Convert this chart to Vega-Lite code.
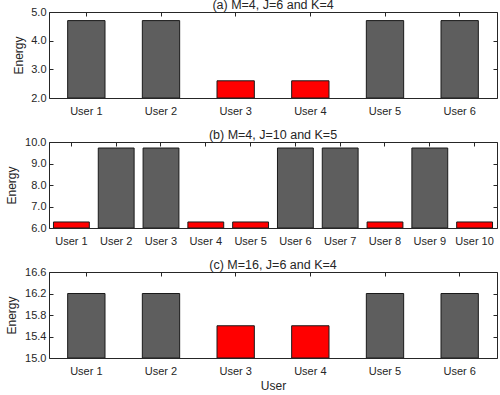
{
  "$schema": "https://vega.github.io/schema/vega-lite/v6.json",
  "padding": {"left": 5, "top": -2, "right": 1, "bottom": 0},
  "spacing": 12,
  "config": {
    "view": {"stroke": null},
    "font": "Liberation Sans",
    "axis": {
      "domainColor": "#262626",
      "tickColor": "#262626",
      "labelColor": "#262626",
      "titleColor": "#262626",
      "labelFont": "Liberation Sans",
      "titleFont": "Liberation Sans",
      "labelFontSize": 11,
      "titleFontSize": 12,
      "titleFontWeight": "normal",
      "grid": false,
      "tickSize": -4,
      "domainWidth": 1,
      "zindex": 1
    },
    "title": {"font": "Liberation Sans", "fontSize": 12.5, "fontWeight": "normal", "color": "#262626", "offset": -5}
  },
  "vconcat": [
    {
      "width": 448,
      "height": 86,
      "title": "(a) M=4, J=6 and K=4",
      "data": {"values": [
        {"User": "User 1", "Energy": 4.7, "Level": "high"},
        {"User": "User 2", "Energy": 4.7, "Level": "high"},
        {"User": "User 3", "Energy": 2.6, "Level": "low"},
        {"User": "User 4", "Energy": 2.6, "Level": "low"},
        {"User": "User 5", "Energy": 4.7, "Level": "high"},
        {"User": "User 6", "Energy": 4.7, "Level": "high"}
      ]},
      "resolve": {"axis": {"x": "independent", "y": "independent"}},
      "layer": [
        {
          "mark": {"type": "bar", "stroke": "#1a1a1a", "strokeWidth": 1, "clip": true},
          "encoding": {
            "x": {"field": "User", "type": "nominal", "sort": null, "scale": {"paddingInner": 0.5, "paddingOuter": 0.25}, "axis": {"title": null, "labelAngle": 0, "labelPadding": 11}},
            "y": {"field": "Energy", "type": "quantitative", "scale": {"domain": [2, 5], "nice": false, "zero": false}, "axis": {"values": [2, 3, 4, 5], "format": ".1f", "title": "Energy", "labelPadding": 7, "titlePadding": 5}},
            "y2": {"datum": 2},
            "color": {"field": "Level", "type": "nominal", "scale": {"domain": ["high", "low"], "range": ["#5e5e5e", "#ff0000"]}, "legend": null}
          }
        },
        {
          "mark": {"type": "bar", "opacity": 0, "clip": true},
          "encoding": {
            "x": {"field": "User", "type": "nominal", "sort": null, "scale": {"paddingInner": 0.5, "paddingOuter": 0.25}, "axis": {"orient": "top", "labels": false, "title": null}},
            "y": {"field": "Energy", "type": "quantitative", "scale": {"domain": [2, 5], "nice": false, "zero": false}, "axis": {"orient": "right", "values": [2, 3, 4, 5], "labels": false, "title": null}},
            "y2": {"datum": 2}
          }
        }
      ]
    },
    {
      "width": 448,
      "height": 86,
      "title": "(b) M=4, J=10 and K=5",
      "data": {"values": [
        {"User": "User 1", "Energy": 6.28, "Level": "low"},
        {"User": "User 2", "Energy": 9.72, "Level": "high"},
        {"User": "User 3", "Energy": 9.72, "Level": "high"},
        {"User": "User 4", "Energy": 6.28, "Level": "low"},
        {"User": "User 5", "Energy": 6.28, "Level": "low"},
        {"User": "User 6", "Energy": 9.72, "Level": "high"},
        {"User": "User 7", "Energy": 9.72, "Level": "high"},
        {"User": "User 8", "Energy": 6.28, "Level": "low"},
        {"User": "User 9", "Energy": 9.72, "Level": "high"},
        {"User": "User 10", "Energy": 6.28, "Level": "low"}
      ]},
      "resolve": {"axis": {"x": "independent", "y": "independent"}},
      "layer": [
        {
          "mark": {"type": "bar", "stroke": "#1a1a1a", "strokeWidth": 1, "clip": true},
          "encoding": {
            "x": {"field": "User", "type": "nominal", "sort": null, "scale": {"paddingInner": 0.2, "paddingOuter": 0.1}, "axis": {"title": null, "labelAngle": 0, "labelPadding": 11}},
            "y": {"field": "Energy", "type": "quantitative", "scale": {"domain": [6, 10], "nice": false, "zero": false}, "axis": {"values": [6, 7, 8, 9, 10], "format": ".1f", "title": "Energy", "labelPadding": 7, "titlePadding": 6}},
            "y2": {"datum": 6},
            "color": {"field": "Level", "type": "nominal", "scale": {"domain": ["high", "low"], "range": ["#5e5e5e", "#ff0000"]}, "legend": null}
          }
        },
        {
          "mark": {"type": "bar", "opacity": 0, "clip": true},
          "encoding": {
            "x": {"field": "User", "type": "nominal", "sort": null, "scale": {"paddingInner": 0.2, "paddingOuter": 0.1}, "axis": {"orient": "top", "labels": false, "title": null}},
            "y": {"field": "Energy", "type": "quantitative", "scale": {"domain": [6, 10], "nice": false, "zero": false}, "axis": {"orient": "right", "values": [6, 7, 8, 9, 10], "labels": false, "title": null}},
            "y2": {"datum": 6}
          }
        }
      ]
    },
    {
      "width": 448,
      "height": 86,
      "title": "(c) M=16, J=6 and K=4",
      "data": {"values": [
        {"User": "User 1", "Energy": 16.2, "Level": "high"},
        {"User": "User 2", "Energy": 16.2, "Level": "high"},
        {"User": "User 3", "Energy": 15.6, "Level": "low"},
        {"User": "User 4", "Energy": 15.6, "Level": "low"},
        {"User": "User 5", "Energy": 16.2, "Level": "high"},
        {"User": "User 6", "Energy": 16.2, "Level": "high"}
      ]},
      "resolve": {"axis": {"x": "independent", "y": "independent"}},
      "layer": [
        {
          "mark": {"type": "bar", "stroke": "#1a1a1a", "strokeWidth": 1, "clip": true},
          "encoding": {
            "x": {"field": "User", "type": "nominal", "sort": null, "scale": {"paddingInner": 0.5, "paddingOuter": 0.25}, "axis": {"title": "User", "labelAngle": 0, "labelPadding": 11, "titlePadding": 4}},
            "y": {"field": "Energy", "type": "quantitative", "scale": {"domain": [15, 16.6], "nice": false, "zero": false}, "axis": {"values": [15, 15.4, 15.8, 16.2, 16.6], "format": ".1f", "title": "Energy", "labelPadding": 7, "titlePadding": 6}},
            "y2": {"datum": 15},
            "color": {"field": "Level", "type": "nominal", "scale": {"domain": ["high", "low"], "range": ["#5e5e5e", "#ff0000"]}, "legend": null}
          }
        },
        {
          "mark": {"type": "bar", "opacity": 0, "clip": true},
          "encoding": {
            "x": {"field": "User", "type": "nominal", "sort": null, "scale": {"paddingInner": 0.5, "paddingOuter": 0.25}, "axis": {"orient": "top", "labels": false, "title": null}},
            "y": {"field": "Energy", "type": "quantitative", "scale": {"domain": [15, 16.6], "nice": false, "zero": false}, "axis": {"orient": "right", "values": [15, 15.4, 15.8, 16.2, 16.6], "labels": false, "title": null}},
            "y2": {"datum": 15}
          }
        }
      ]
    }
  ]
}
